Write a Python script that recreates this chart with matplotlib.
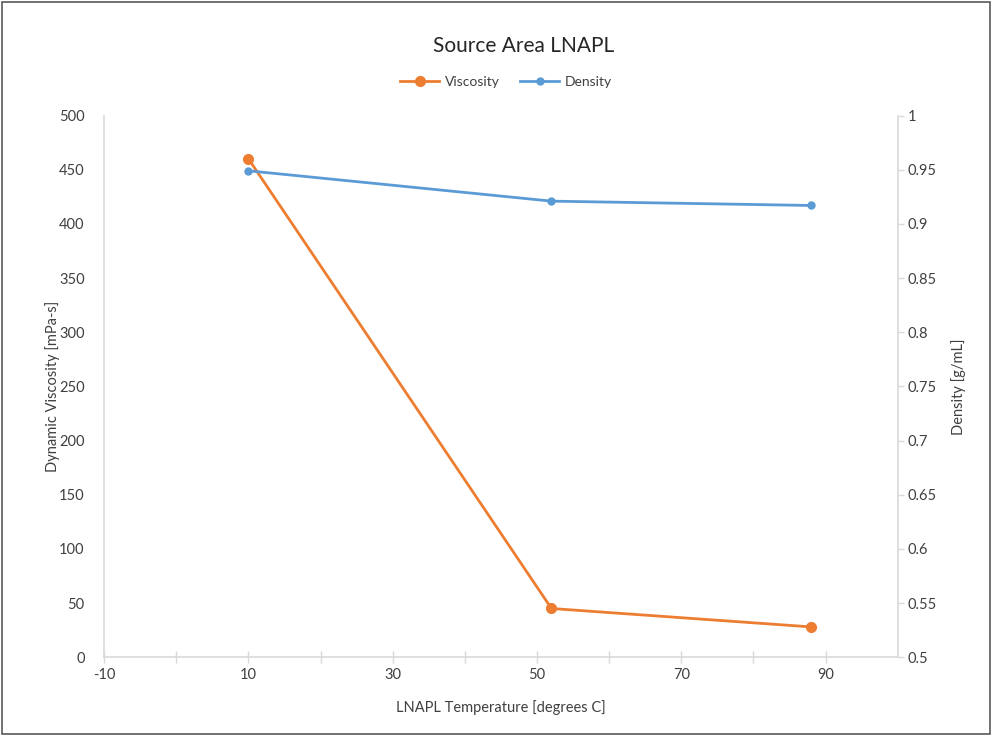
import matplotlib.pyplot as plt
from matplotlib.patches import Rectangle
from matplotlib.ticker import MultipleLocator, FixedLocator

plt.rcParams['font.family'] = ['Lato', 'DejaVu Sans']
plt.rcParams['axes.unicode_minus'] = False

# data
temp = [10, 52, 88]
viscosity = [460, 45, 28]
density = [0.949, 0.921, 0.917]

orange = '#ED7D31'
blue = '#5B9BD5'
axis_grey = '#D9D9D9'
text_grey = '#404040'

fig = plt.figure(figsize=(9.92, 7.36), dpi=100)
ax = fig.add_axes([0.105, 0.107, 0.8, 0.736])
ax2 = ax.twinx()

l1, = ax.plot(temp, viscosity, color=orange, lw=2, marker='o', ms=7, label='Viscosity')
l2, = ax2.plot(temp, density, color=blue, lw=2, marker='o', ms=5, label='Density')

ax.set_xlim(-10, 100)
ax.set_ylim(0, 500)
ax2.set_ylim(0.5, 1)
ax.xaxis.set_major_locator(FixedLocator([-10, 10, 30, 50, 70, 90]))
ax.xaxis.set_minor_locator(FixedLocator([0, 20, 40, 60, 80]))
ax.yaxis.set_major_locator(MultipleLocator(50))
ax2.yaxis.set_major_locator(MultipleLocator(0.05))
ax2.yaxis.set_major_formatter(plt.FuncFormatter(lambda v, p: ('%.2f' % v).rstrip('0').rstrip('.')))

for a in (ax, ax2):
    for s in a.spines.values():
        s.set_visible(False)
ax.spines['left'].set_visible(True)
ax.spines['bottom'].set_visible(True)
ax2.spines['right'].set_visible(True)
for s in (ax.spines['left'], ax.spines['bottom'], ax2.spines['right']):
    s.set_color(axis_grey)
    s.set_linewidth(1.2)

ax.tick_params(axis='x', which='both', direction='inout', length=8, width=1,
               color=axis_grey, labelsize=10.5, labelcolor=text_grey, pad=4)
ax.tick_params(axis='y', length=0, labelsize=10.5, labelcolor=text_grey, pad=14)
ax2.tick_params(axis='y', direction='out', length=4, width=1, color=axis_grey,
                labelsize=10.5, labelcolor=text_grey, pad=3)

ax.set_xlabel('LNAPL Temperature [degrees C]', fontsize=10.5, color=text_grey, labelpad=13)
ax.set_ylabel('Dynamic Viscosity [mPa-s]', fontsize=10.5, color=text_grey, labelpad=-1)
ax2.set_ylabel('Density [g/mL]', fontsize=10.5, color=text_grey, labelpad=10)

fig.text(0.528, 0.938, 'Source Area LNAPL', ha='center', va='center', fontsize=15, color='#262626')
fig.legend(handles=[l1, l2], loc='center', bbox_to_anchor=(0.51, 0.889), ncol=2,
           frameon=False, fontsize=10, labelcolor=text_grey, handlelength=2.8,
           columnspacing=1.5, handletextpad=0.4)

fig.add_artist(Rectangle((0.002, 0.003), 0.996, 0.994, transform=fig.transFigure,
                         fill=False, edgecolor='#595959', lw=1.2))

fig.savefig('out.png', dpi=100)
